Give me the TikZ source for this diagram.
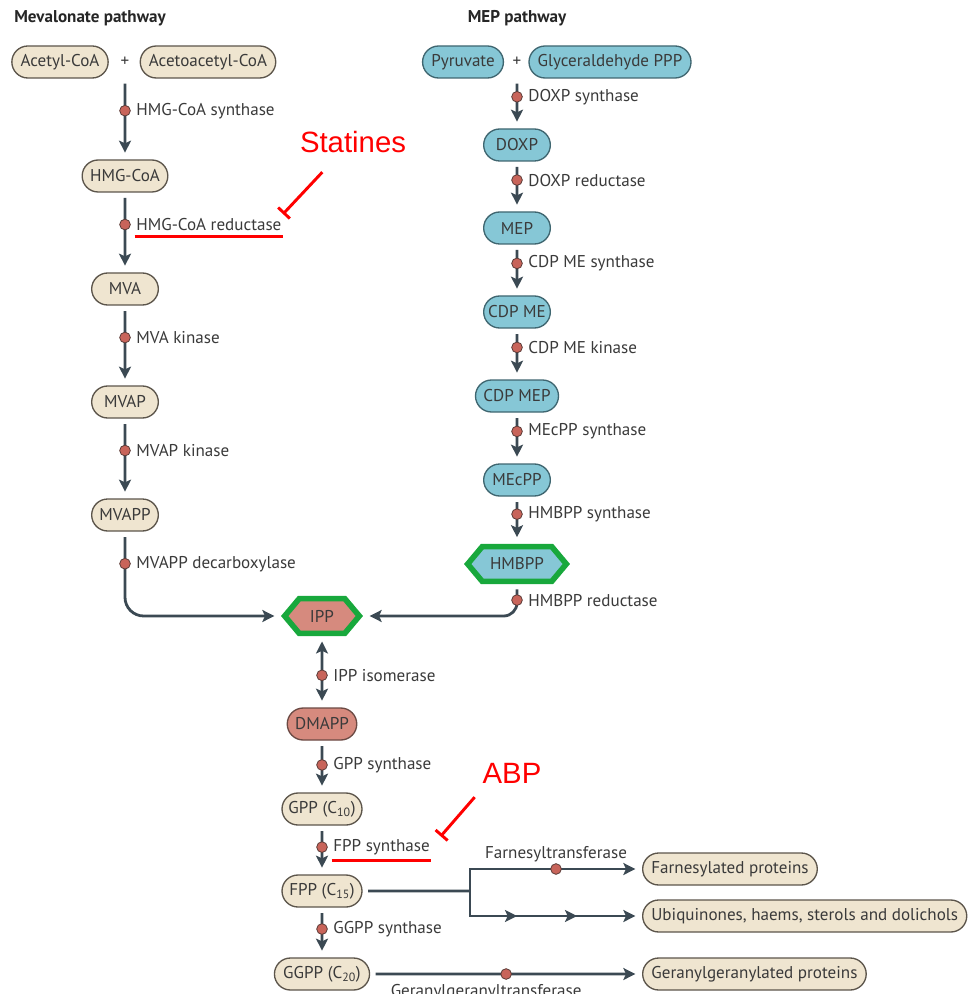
\documentclass[tikz,border=0pt]{standalone}
\usepackage{fontspec}
\setmainfont{PT Sans}
\newfontfamily\redfont{Liberation Sans}
\usetikzlibrary{positioning,arrows.meta,shapes.misc,shapes.symbols,decorations.markings}
\definecolor{beige}{HTML}{EFE5D0}
\definecolor{boxline}{HTML}{5C554B}
\definecolor{mepblue}{HTML}{86C7D6}
\definecolor{mepline}{HTML}{3F6670}
\definecolor{salmon}{HTML}{D68A7E}
\definecolor{salmonline}{HTML}{6B4A44}
\definecolor{enzred}{HTML}{C8645A}
\definecolor{enzline}{HTML}{5A3B37}
\definecolor{flowc}{HTML}{3B4953}
\definecolor{hexgreen}{HTML}{18A83C}
\definecolor{txt}{HTML}{3A3A3A}

\begin{document}
\begin{tikzpicture}[x=0.75pt,y=-0.75pt]
          \tikzset{Metab/.style = {rounded rectangle, draw=boxline, line width=1pt, fill=beige, text=txt,
                   minimum height=24pt, minimum width=60pt, inner xsep=5pt, font=\fontsize{12.8}{14}\selectfont}}
          \tikzset{MepMetab/.style = {Metab, fill=mepblue, draw=mepline}}
          \tikzset{Plus/.style = {text=txt, minimum height=24pt, inner sep=0pt, font=\fontsize{12.8}{14}\selectfont}}
          \tikzset{Hexa/.style = {signal, signal to=east and west, signal pointer angle=100, draw=hexgreen,
                   line width=4.2pt, minimum height=26pt, inner sep=1pt, text=txt, font=\fontsize{12.8}{14}\selectfont}}
          \tikzset{Enz/.style = {circle, fill=enzred, draw=enzline, line width=0.6pt, minimum size=8pt, inner sep=0pt}}
          \tikzset{EnzLabel/.style = {inner sep=1pt, text=txt, font=\fontsize{12.8}{14}\selectfont}}
          \tikzset{Title/.style = {text=black!85, font=\bfseries\fontsize{12.8}{14}\selectfont}}
          \tikzset{Flow/.style = {draw=flowc, line width=2.1pt, shorten <=4pt, shorten >=5pt,
                   -{Stealth[length=9pt,width=9pt,inset=2pt]}}}
          \tikzset{DFlow/.style = {Flow, {Stealth[length=9pt,width=9pt,inset=2pt]}-{Stealth[length=9pt,width=9pt,inset=2pt]}}}
          \tikzset{Line/.style = {draw=flowc, line width=2.1pt}}
          \tikzset{RedText/.style = {text=red, font=\redfont\fontsize{22}{24}\selectfont}}
          \tikzset{Block/.style = {draw=red, line width=2.2pt, -{Bar[width=12pt,line width=2.2pt]}}}
          \tikzset{Underline/.style = {draw=red, line width=2.2pt}}

          \useasboundingbox (0,0) rectangle (967,994);

          \node[Title] (mevtitle) at (90,18) {Mevalonate pathway};
          \node[Title] (meptitle) at (517,18) {MEP pathway};

          \node[Metab] (acoa) at (60,62) {Acetyl-CoA};
          \node[Plus] (plusm) at (125,62) {+};
          \node[Metab] (acac) at (208,62) {Acetoacetyl-CoA};
          \node[Metab] (hmgcoa) at (125,176) {HMG-CoA};
          \node[Metab] (mva) at (125,289) {MVA};
          \node[Metab] (mvap) at (125,402) {MVAP};
          \node[Metab] (mvapp) at (125,515) {MVAPP};

          \node[MepMetab] (pyr) at (463,62) {Pyruvate};
          \node[Plus] (plusp) at (517,62) {+};
          \node[MepMetab] (gap) at (610,62) {Glyceraldehyde PPP};
          \node[MepMetab] (doxp) at (517,145) {DOXP};
          \node[MepMetab] (mep) at (517,228) {MEP};
          \node[MepMetab] (cdpme) at (517,312) {CDP ME};
          \node[MepMetab] (cdpmep) at (517,396) {CDP MEP};
          \node[MepMetab] (mecpp) at (517,480) {MEcPP};
          \node[Hexa, fill=mepblue, minimum width=74pt] (hmbpp) at (517,564) {HMBPP};

          \node[Hexa, fill=salmon, minimum width=56pt] (ipp) at (322,616) {IPP};
          \node[Metab, fill=salmon, draw=salmonline, minimum width=52pt] (dmapp) at (322,724) {DMAPP};
          \node[Metab, minimum width=70pt] (gpp) at (322,809) {GPP (C\textsubscript{10})};
          \node[Metab, minimum width=70pt] (fpp) at (322,891) {FPP (C\textsubscript{15})};
          \node[Metab, minimum width=70pt] (ggpp) at (322,974) {GGPP (C\textsubscript{20})};

          \node[Metab, anchor=west] (farn) at (642,869) {Farnesylated proteins};
          \node[Metab, anchor=west] (ubi) at (642,916) {Ubiquinones, haems, sterols and dolichols};
          \node[Metab, anchor=west] (ggprot) at (642,974) {Geranylgeranylated proteins};
          \coordinate (br) at (470,891);

          \draw[Flow] (plusm) -- node[Enz, pos=.4] (hmgs) {} (hmgcoa);
          \node[EnzLabel, right=3pt of hmgs] (hmgsl) {HMG-CoA synthase};
          \draw[Flow] (hmgcoa) -- node[Enz, pos=.4] (hmgr) {} (mva);
          \node[EnzLabel, right=3pt of hmgr] (hmgred) {HMG-CoA reductase};
          \draw[Flow] (mva) -- node[Enz, pos=.4] (mvak) {} (mvap);
          \node[EnzLabel, right=3pt of mvak] (mvakl) {MVA kinase};
          \draw[Flow] (mvap) -- node[Enz, pos=.4] (mvapk) {} (mvapp);
          \node[EnzLabel, right=3pt of mvapk] (mvapkl) {MVAP kinase};
          \draw[Flow, rounded corners=14pt] (mvapp) -- node[Enz, pos=.38] (mvd) {} (mvapp |- ipp) -- (ipp);
          \node[EnzLabel, right=3pt of mvd] (mvdl) {MVAPP decarboxylase};

          \draw[Flow] (plusp) -- node[Enz, pos=.37] (doxps) {} (doxp);
          \node[EnzLabel, right=3pt of doxps] (doxpsl) {DOXP synthase};
          \draw[Flow] (doxp) -- node[Enz, pos=.37] (doxpr) {} (mep);
          \node[EnzLabel, right=3pt of doxpr] (doxprl) {DOXP reductase};
          \draw[Flow] (mep) -- node[Enz, pos=.37] (cdps) {} (cdpme);
          \node[EnzLabel, right=3pt of cdps] (cdpsl) {CDP ME synthase};
          \draw[Flow] (cdpme) -- node[Enz, pos=.37] (cdpk) {} (cdpmep);
          \node[EnzLabel, right=3pt of cdpk] (cdpkl) {CDP ME kinase};
          \draw[Flow] (cdpmep) -- node[Enz, pos=.37] (mecs) {} (mecpp);
          \node[EnzLabel, right=3pt of mecs] (mecsl) {MEcPP synthase};
          \draw[Flow] (mecpp) -- node[Enz, pos=.37] (hmbs) {} (hmbpp);
          \node[EnzLabel, right=3pt of hmbs] (hmbsl) {HMBPP synthase};
          \draw[Flow, rounded corners=10pt] (hmbpp) -- node[Enz, pos=.5] (hmbr) {} (hmbpp |- ipp) -- (ipp);
          \node[EnzLabel, right=3pt of hmbr] (hmbrl) {HMBPP reductase};

          \draw[DFlow] (ipp) -- node[Enz, pos=.55] (ippi) {} (dmapp);
          \node[EnzLabel, right=3pt of ippi] (ippil) {IPP isomerase};
          \draw[Flow] (dmapp) -- node[Enz, pos=.47] (gpps) {} (gpp);
          \node[EnzLabel, right=3pt of gpps] (gppsl) {GPP synthase};
          \draw[Flow] (gpp) -- node[Enz, pos=.44] (fpps) {} (fpp);
          \node[EnzLabel, right=3pt of fpps] (fppsl) {FPP synthase};
          \draw[Flow] (fpp) -- node[Enz, pos=.43] (ggpps) {} (ggpp);
          \node[EnzLabel, right=3pt of ggpps] (ggppsl) {GGPP synthase};

          \draw[Line, shorten <=4pt] (fpp) -- (br);
          \draw[Flow, shorten <=0pt] (br) |- node[Enz, pos=.75] (ftr) {} (farn);
          \node[EnzLabel, above=0pt of ftr] (ftrl) {Farnesyltransferase};
          \draw[Flow, shorten <=0pt, postaction={decorate}, decoration={markings,
                mark=at position 54pt with {\arrow{Stealth[length=9pt,width=9pt,inset=2pt]}},
                mark=at position 99pt with {\arrow{Stealth[length=9pt,width=9pt,inset=2pt]}}}] (br) |- (ubi);
          \draw[Flow] (ggpp) -- node[Enz, pos=.5] (ggtr) {} (ggprot);
          \node[EnzLabel, below=2pt of ggtr, xshift=-15pt] (ggtrl) {Geranylgeranyltransferase};

          \node[RedText] (statines) at (353,142) {Statines};
          \node[RedText] (abp) at (512,773) {ABP};
          \draw[Underline] ([yshift=-3pt]hmgred.south west) -- ([yshift=-3pt]hmgred.south east);
          \draw[Underline] ([yshift=-3pt]fppsl.south west) -- ([yshift=-3pt]fppsl.south east);
          \draw[Block] ([xshift=-23pt,yshift=-11pt]statines.south) -- ([yshift=2pt]hmgred.north east);
          \draw[Block] ([xshift=-28pt,yshift=-7pt]abp.south) -- ([xshift=7pt,yshift=1pt]fppsl.north east);
        \end{tikzpicture}
\end{document}
